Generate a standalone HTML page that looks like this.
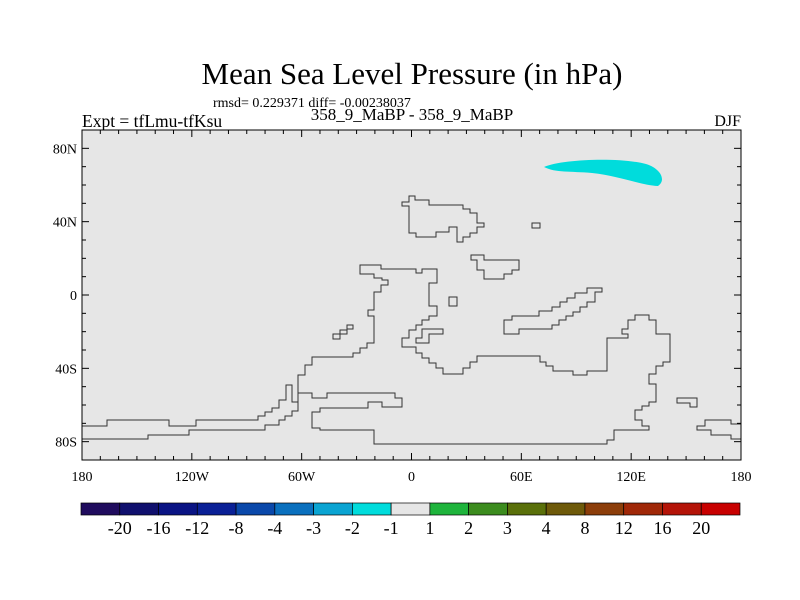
<!DOCTYPE html>
<html><head><meta charset="utf-8"><style>
body{margin:0;background:#fff;}
svg{display:block;font-family:"Liberation Serif",serif;}
</style></head><body>
<svg id="chart" width="800" height="600" viewBox="0 0 800 600">
<text x="412" y="84" font-size="31" text-anchor="middle">Mean Sea Level Pressure (in hPa)</text>
<text x="213" y="107" font-size="14">rmsd= 0.229371 diff= -0.00238037</text>
<text x="412" y="120" font-size="17" text-anchor="middle">358_9_MaBP - 358_9_MaBP</text>
<text x="82" y="127" font-size="17.5">Expt = tfLmu-tfKsu</text>
<text x="741" y="126" font-size="16" text-anchor="end">DJF</text>
<rect x="82" y="130" width="659" height="330" fill="#e6e6e6"/>
<path d="M544,167 C562,159 620,157 646,164 C662,169 666,181 658,186 C640,185 620,176 592,173 C570,171 556,173 544,167 Z" fill="#00dcdc"/>
<g fill="none" stroke="#333" stroke-width="1">
<path d="M82,426 L107,426 L107,420 L169,420 L169,426 L196,426 L196,420 L258,420 L258,416 L265,416 L265,412 L272,412 L272,408 L279,408 L279,400 L286,400 L286,385 L292,385 L292,402 L298,402 L298,411 L292,411 L292,416 L285,416 L285,420 L279,420 L279,425 L265,425 L265,430 L189,430 L189,435 L148,435 L148,439 L82,439"/>
<path d="M298,402 L298,375 L305,375 L305,365 L312,365 L312,357 L353,357 L353,353 L360,353 L360,348 L367,348 L367,343 L374,343 L374,316 L368,316 L368,310 L374,310 L374,292 L381,292 L381,285 L388,285 L388,280 L382,280 L382,278 L374,278 L374,274 L360,274 L360,265 L381,265 L381,269 L416,269 L416,273 L422,273 L422,269 L437,269 L437,283 L429,283 L429,306 L437,306 L437,316 L429,316 L429,320 L422,320 L422,325 L416,325 L416,330 L409,330 L409,338 L402,338 L402,347 L416,347 L416,353 L422,353 L422,358 L429,358 L429,363 L436,363 L436,368 L443,368 L443,374 L463,374 L463,368 L470,368 L470,362 L477,362 L477,356 L540,356 L540,362 L546,362 L546,366 L553,366 L553,371 L573,371 L573,375 L587,375 L587,371 L607,371 L607,338 L628,338 L628,334 L622,334 L622,329 L628,329 L628,320 L635,320 L635,315 L649,315 L649,320 L656,320 L656,334 L670,334 L670,362 L663,362 L663,366 L656,366 L656,374 L649,374 L649,384 L656,384 L656,402 L649,402 L649,406 L642,406 L642,410 L635,410 L635,420 L642,420 L642,426 L649,426 L649,430 L614,430 L614,440 L607,440 L607,444 L374,444 L374,430 L320,430 L320,428 L312,428 L312,412 L320,412 L320,408 L368,408 L368,402 L382,402 L382,407 L402,407 L402,398 L395,398 L395,393 L327,393 L327,398 L312,398 L312,393 L298,393"/>
<path d="M402,202 L409,202 L409,196 L415,196 L415,200 L429,200 L429,205 L463,205 L463,209 L470,209 L470,213 L477,213 L477,223 L484,223 L484,227 L477,227 L477,233 L470,233 L470,237 L463,237 L463,242 L457,242 L457,227 L449,227 L449,232 L436,232 L436,237 L416,237 L416,233 L409,233 L409,206 L402,206 Z"/>
<path d="M532,223 L540,223 L540,228 L532,228 Z"/>
<path d="M471,255 L484,255 L484,260 L519,260 L519,270 L512,270 L512,274 L504,274 L504,279 L484,279 L484,270 L477,270 L477,260 L471,260 Z"/>
<path d="M449,297 L457,297 L457,306 L449,306 Z"/>
<path d="M504,334 L504,320 L512,320 L512,316 L539,316 L539,311 L552,311 L552,307 L560,307 L560,302 L567,302 L567,298 L575,298 L575,293 L587,293 L587,288 L602,288 L602,292 L595,292 L595,302 L587,302 L587,307 L580,307 L580,312 L573,312 L573,316 L566,316 L566,320 L559,320 L559,325 L552,325 L552,329 L519,329 L519,334 Z"/>
<path d="M416,343 L416,338 L422,338 L422,329 L443,329 L443,334 L429,334 L429,343 Z"/>
<path d="M333,339 L333,334 L340,334 L340,330 L347,330 L347,325 L353,325 L353,329 L347,329 L347,334 L340,334 L340,339 Z"/>
<path d="M677,398 L697,398 L697,407 L690,407 L690,403 L677,403 Z"/>
<path d="M741,424 L731,424 L731,420 L705,420 L705,426 L697,426 L697,430 L711,430 L711,435 L731,435 L731,439 L741,439"/>
</g>
<rect x="82" y="130" width="659" height="330" fill="none" stroke="#000" stroke-width="1"/>
<g id="ticks"></g>
<g id="cbar"></g>
</svg>
<script>
const lonTicks=[-180,-120,-60,0,60,120,180];
const lonLabels=["180","120W","60W","0","60E","120E","180"];
const latTicks=[80,40,0,-40,-80];
const latLabels=["80N","40N","0","40S","80S"];
const cbarLevels=["-20","-16","-12","-8","-4","-3","-2","-1","1","2","3","4","8","12","16","20"];
const cbarColors=["#200c5e","#10106e","#0a1484","#0a2096","#0a48aa","#0a70be","#0aa4d2","#00dcdc","#e6e6e6","#1eb43c","#3c8c1e","#5a700a","#6e5a0a","#8c3e0a","#a02808","#b41408","#c80000"];
const NS="http://www.w3.org/2000/svg";
const X0=82,X1=741,Y0=130,Y1=460;
const xs=lon=>X0+(lon+180)/360*(X1-X0);
const ys=lat=>Y0+(90-lat)/180*(Y1-Y0);
const tg=document.getElementById('ticks');
function line(x1,y1,x2,y2,name){const l=document.createElementNS(NS,'line');l.setAttribute('x1',x1);l.setAttribute('y1',y1);l.setAttribute('x2',x2);l.setAttribute('y2',y2);l.setAttribute('stroke','#000');


tg.appendChild(l);}
function txt(x,y,s,anchor,name,g){const t=document.createElementNS(NS,'text');t.setAttribute('x',x);t.setAttribute('y',y);t.setAttribute('font-size','14');t.setAttribute('text-anchor',anchor);t.textContent=s;


(g||tg).appendChild(t);}
for(let lon=-180;lon<=180;lon+=10){const x=xs(lon);const L=lon%60===0?7:4;line(x,Y1,x,Y1-L,'x-tick');line(x,Y0,x,Y0+L,'x-tick-top');}
for(let lat=-90;lat<=90;lat+=10){const y=ys(lat);const L=(lat%40===0)?7:4;line(X0,y,X0+L,y,'y-tick');line(X1,y,X1-L,y,'y-tick-right');}
lonTicks.forEach((v,i)=>txt(xs(v),481,lonLabels[i],'middle','x-tick-label'));
latTicks.forEach((v,i)=>txt(77,ys(v)+5,latLabels[i],'end','y-tick-label'));
const cg=document.getElementById('cbar');
const CB0=81,CB1=740,bw=(CB1-CB0)/cbarColors.length;
cbarColors.forEach((c,i)=>{const r=document.createElementNS(NS,'rect');r.setAttribute('x',CB0+i*bw);r.setAttribute('y',503);r.setAttribute('width',bw);r.setAttribute('height',12);r.setAttribute('fill',c);r.setAttribute('stroke','#000');r.setAttribute('stroke-width','0.7');


cg.appendChild(r);});
cbarLevels.forEach((s,i)=>txt(CB0+(i+1)*bw,534,s,'middle','colorbar-label',cg));
cg.querySelectorAll('text').forEach(t=>t.setAttribute('font-size','18'));
</script>
</body></html>
